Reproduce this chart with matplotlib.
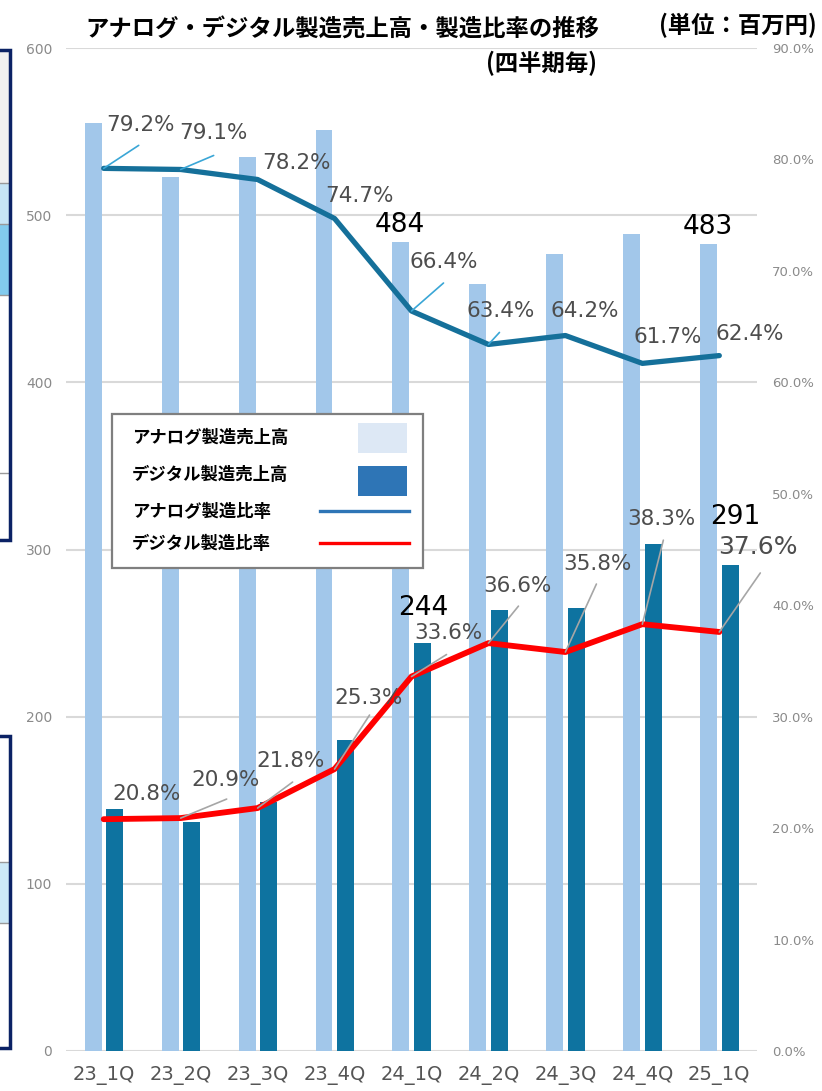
import matplotlib
matplotlib.use('Agg')
import matplotlib.pyplot as plt
from matplotlib.patches import Rectangle
from matplotlib.lines import Line2D
import numpy as np

# data (sales in million yen, ratios in %)
quarters = ['23_1Q', '23_2Q', '23_3Q', '23_4Q', '24_1Q', '24_2Q', '24_3Q', '24_4Q', '25_1Q']
analog_sales = [555, 523, 535, 551, 484, 459, 477, 489, 483]
digital_sales = [145, 137, 149, 186, 244, 264, 265, 303, 291]
analog_ratio = [79.2, 79.1, 78.2, 74.7, 66.4, 63.4, 64.2, 61.7, 62.4]
digital_ratio = [20.8, 20.9, 21.8, 25.3, 33.6, 36.6, 35.8, 38.3, 37.6]
value_label_idx = [4, 8]

# label placement (offset pixels from the data point)
analog_lbl_off = [(37, 43), (33, 36), (39, 17), (25, 23), (32, 49), (12, 33), (19, 25), (25, 26), (30, 22)]
analog_lead_off = [(35, 23), (33, 14), None, None, (32, 28), (11, 12), None, None, None]
digital_lbl_off = [(43, 25), (45, 38), (33, 47), (34, 71), (37, 44), (29, 57), (32, 88), (19, 105), (39, 85)]
digital_lead_off = [None, (46, 19), (35, 26), (35, 54), (35, 22), (30, 37), (31, 68), (21, 84), (41, 59)]
digital_val_off = {4: (1, 35), 8: (5, 48)}

W, H = 822, 1091
JP = ['Noto Sans CJK JP', 'DejaVu Sans']
plt.rcParams['font.family'] = ['DejaVu Sans', 'Noto Sans CJK JP']


def fx(x):
    return x / W


def fy(y):
    return 1 - y / H


fig = plt.figure(figsize=(W / 100, H / 100), dpi=100)
ax = fig.add_axes([fx(66), fy(1051), (757 - 66) / W, (1051 - 48) / H])
ax2 = ax.twinx()

x = np.arange(len(quarters))
bw = 0.22
ax.bar(x - 0.137, analog_sales, bw, color='#a2c7ea', zorder=2)
ax.bar(x + 0.143, digital_sales, bw, color='#0e73a0', zorder=2)
ax.set_ylim(0, 600)
ax.set_xlim(-0.49, 8.49)
ax.set_yticks(range(0, 601, 100))
ax.grid(axis='y', color='#d9d9d9', lw=1.5, zorder=0)
ax.set_axisbelow(True)
for s in ax.spines.values():
    s.set_visible(False)
for s in ax2.spines.values():
    s.set_visible(False)
ax.tick_params(axis='y', length=0, pad=10, labelsize=10, labelcolor='#8a8a8a')
ax.set_xticks(x)
ax.set_xticklabels(quarters)
ax.tick_params(axis='x', length=0, pad=11, labelsize=14, labelcolor='#555555')

ar = np.array(analog_ratio) / 100
dr = np.array(digital_ratio) / 100
ax2.plot(x, ar, color='#15709a', lw=3.8, solid_joinstyle='round', solid_capstyle='round', zorder=3)
ax2.plot(x, dr, color='#ff0000', lw=4.2, solid_joinstyle='round', solid_capstyle='round', zorder=3)
ax2.set_ylim(0, 0.9)
ax2.set_yticks(np.arange(0, 0.91, 0.1))
ax2.set_yticklabels([f'{v * 100:.1f}%' for v in np.arange(0, 0.91, 0.1)])
ax2.tick_params(axis='y', length=0, pad=11, labelsize=9.5, labelcolor='#8a8a8a')

# ratio labels with leader lines
for i in range(len(quarters)):
    if analog_lead_off[i]:
        ax2.annotate('', xy=(x[i], ar[i]), xytext=analog_lead_off[i], textcoords='offset pixels',
                     arrowprops=dict(arrowstyle='-', color='#3aa6d6', lw=1.2, shrinkA=0, shrinkB=0))
    ax2.annotate(f'{analog_ratio[i]}%', xy=(x[i], ar[i]), xytext=analog_lbl_off[i],
                 textcoords='offset pixels', ha='center', va='center', fontsize=15.5, color='#4d4d4d')
    if digital_lead_off[i]:
        ax2.annotate('', xy=(x[i], dr[i]), xytext=digital_lead_off[i], textcoords='offset pixels',
                     arrowprops=dict(arrowstyle='-', color='#a6a6a6', lw=1.2, shrinkA=0, shrinkB=0))
    fs = 18 if i == len(quarters) - 1 else 15.5
    ax2.annotate(f'{digital_ratio[i]}%', xy=(x[i], dr[i]), xytext=digital_lbl_off[i],
                 textcoords='offset pixels', ha='center', va='center', fontsize=fs, color='#4d4d4d')

# sales value labels
for i in value_label_idx:
    ax.annotate(str(analog_sales[i]), xy=(x[i] - 0.137, analog_sales[i]), xytext=(-1, 17),
                textcoords='offset pixels', ha='center', va='center', fontsize=19, color='black')
    ax.annotate(str(digital_sales[i]), xy=(x[i] + 0.143, digital_sales[i]), xytext=digital_val_off[i],
                textcoords='offset pixels', ha='center', va='center', fontsize=19, color='black')

# titles
fig.text(fx(85), fy(30), 'アナログ・デジタル製造売上高・製造比率の推移', family=JP, fontsize=16.8,
         fontweight='bold', ha='left', va='center')
fig.text(fx(597), fy(63), '(四半期毎)', family=JP, fontsize=16.8, fontweight='bold', ha='right', va='center')
fig.text(fx(817), fy(25), '(単位：百万円)', family=JP, fontsize=16.8, fontweight='bold', ha='right', va='center')

# legend box drawn by hand (text left, keys right)
fig.add_artist(Rectangle((fx(112), fy(568)), (423 - 112) / W, (568 - 414) / H, transform=fig.transFigure,
                         facecolor='white', edgecolor='#7f7f7f', lw=1.6, zorder=10))
leg_labels = ['アナログ製造売上高', 'デジタル製造売上高', 'アナログ製造比率', 'デジタル製造比率']
leg_y = [438, 475, 512, 544]
for lbl, yy in zip(leg_labels, leg_y):
    fig.text(fx(132), fy(yy), lbl, family=JP, fontsize=12.5, fontweight='bold', ha='left', va='center', zorder=11)
fig.add_artist(Rectangle((fx(358), fy(453)), 49 / W, 30 / H, transform=fig.transFigure,
                         facecolor='#dde8f5', edgecolor='none', zorder=11))
fig.add_artist(Rectangle((fx(358), fy(496)), 49 / W, 30 / H, transform=fig.transFigure,
                         facecolor='#2e75b6', edgecolor='none', zorder=11))
fig.add_artist(Line2D([fx(320), fx(409)], [fy(511), fy(511)], transform=fig.transFigure,
                      color='#2e75b6', lw=2.4, zorder=11))
fig.add_artist(Line2D([fx(320), fx(409)], [fy(543), fy(543)], transform=fig.transFigure,
                      color='#ff0000', lw=2.4, zorder=11))

# slide fragments along the left edge
for y0, y1, c in [(50, 183, '#f0f0f0'), (183, 224, '#c6e5f6'), (224, 295, '#82cbee'), (295, 540, 'white'),
                  (736, 862, 'white'), (862, 923, '#cde9f7'), (923, 1048, 'white')]:
    fig.add_artist(Rectangle((0, fy(y1)), fx(10), (y1 - y0) / H, transform=fig.transFigure,
                             facecolor=c, edgecolor='none', zorder=5))
for yy in [183, 224, 295, 473, 862, 923]:
    fig.add_artist(Line2D([0, fx(10)], [fy(yy), fy(yy)], transform=fig.transFigure, color='#9a9a9a', lw=1, zorder=6))
for y0, y1 in [(50, 540), (736, 1048)]:
    fig.add_artist(Rectangle((-0.01, fy(y1)), fx(10) + 0.01, (y1 - y0) / H, transform=fig.transFigure,
                             facecolor='none', edgecolor='#0b2265', lw=2.5, zorder=7))

fig.savefig('out.png', dpi=100)
